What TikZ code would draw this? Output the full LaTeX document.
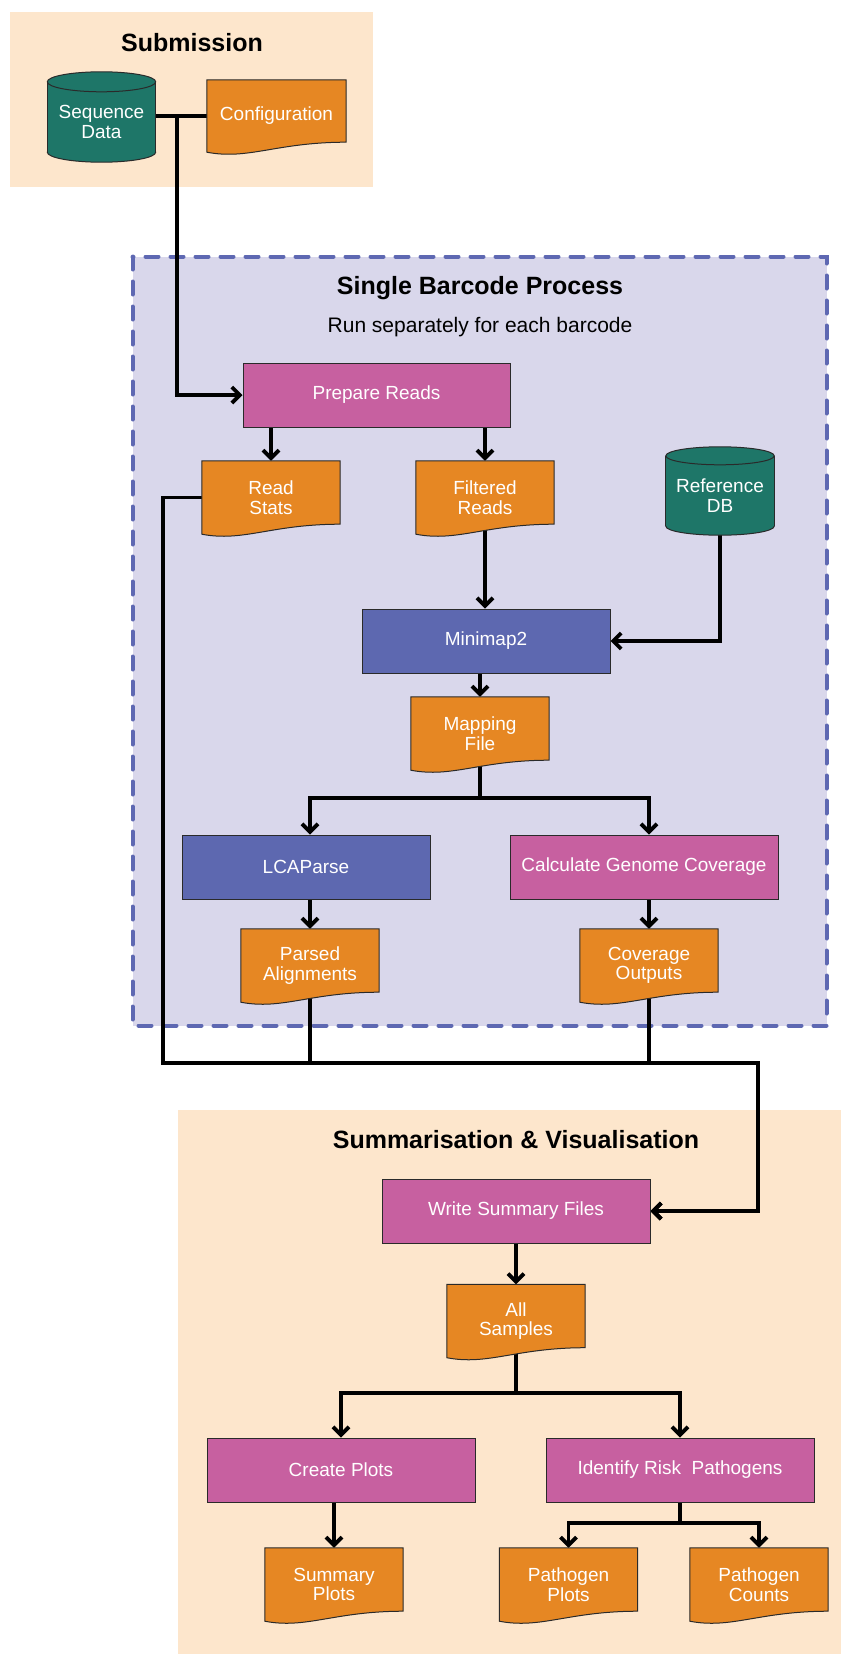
\documentclass[tikz,border=0pt]{standalone}
\usepackage{fontspec}
\setmainfont{Liberation Sans}
\usetikzlibrary{arrows.meta,calc}

\definecolor{peach}{HTML}{FDE6CC}
\definecolor{lavender}{HTML}{D9D7EB}
\definecolor{dashblue}{HTML}{5E68B2}
\definecolor{procpink}{HTML}{C760A0}
\definecolor{procblue}{HTML}{5D68B0}
\definecolor{docorange}{HTML}{E68723}
\definecolor{dbteal}{HTML}{1E7668}
\definecolor{edge}{HTML}{2A2A2A}

\pgfdeclarelayer{groups}
\pgfdeclarelayer{lines}
\pgfdeclarelayer{shapes}
\pgfsetlayers{groups,lines,shapes,main}

% wavy-bottom document outline drawn behind a named node
\newcommand\docoutline[1]{%
  \begin{pgfonlayer}{shapes}
    \path[draw=edge, line width=1pt, fill=docorange]
      (#1.north west) -- (#1.north east) -- ([yshift=10pt]#1.south east)
      .. controls ($(#1.south west)!0.5!(#1.south east)+(0,10pt)$)
         and ($(#1.south west)!0.3!(#1.south east)+(0,-8pt)$) .. (#1.south west)
      -- cycle;
  \end{pgfonlayer}}

% upright cylinder drawn behind a named node; #2 is the ellipse y radius
\newcommand\cylinderoutline[2]{%
  \begin{pgfonlayer}{shapes}
    \path[draw=edge, line width=1pt, fill=dbteal] let \p1=(#1.west), \p2=(#1.east) in
      ($(#1.south)+(0,#2)$) ellipse [x radius={(\x2-\x1)/2}, y radius=#2];
    \fill[dbteal] (#1.north west) rectangle ($(#1.south east)+(0,#2)$);
    \draw[edge, line width=1pt] (#1.north west) -- ($(#1.south west)+(0,#2)$)
                                (#1.north east) -- ($(#1.south east)+(0,#2)$);
    \path[draw=edge, line width=1pt, fill=dbteal] let \p1=(#1.west), \p2=(#1.east) in
      (#1.north) ellipse [x radius={(\x2-\x1)/2}, y radius=#2];
  \end{pgfonlayer}}

\begin{document}
\begin{tikzpicture}[x=1pt, y=-1pt,
  nodefont/.style={font=\fontsize{19}{19.5}\selectfont},
  proc/.style={nodefont, draw=edge, line width=1pt, minimum height=64pt,
               inner sep=0pt, text=white, align=center},
  procpinkbox/.style={proc, fill=procpink},
  procbluebox/.style={proc, fill=procblue},
  docnode/.style={nodefont, minimum width=138pt, minimum height=73pt,
                  inner sep=0pt, text=white, align=center},
  dbnode/.style={nodefont, minimum width=108pt, inner sep=0pt,
                 text=white, align=center},
  grouptitle/.style={font=\fontsize{25}{26}\bfseries\selectfont, text=black},
  groupnote/.style={font=\fontsize{21}{22}\selectfont, text=black},
  flow/.style={line width=3.8pt, black, line join=miter},
  arrow/.style={flow, -{Straight Barb[length=8pt, width=16pt]}}
]
\useasboundingbox (0,0) rectangle (841,1654);

% ---- group backgrounds ----
\begin{pgfonlayer}{groups}
  \fill[peach] (10,12) rectangle (373,187);
  \fill[lavender] (132.5,256.5) rectangle (826.5,1025.5);
  \draw[dashblue, line width=4pt, dash pattern=on 13pt off 12pt, line cap=round]
    (132.5,256.5) rectangle (826.5,1025.5);
  \fill[peach] (178,1110) rectangle (841,1654);
\end{pgfonlayer}

\node[grouptitle] (subtitle) at (192,43) {Submission};
\node[grouptitle] (sbtitle) at (480,288) {Single Barcode Process};
\node[groupnote] (sbnote) at (480,327) {Run separately for each barcode};
\node[grouptitle] (svtitle) at (516,1140) {Summarisation \& Visualisation};

% ---- submission ----
\node[dbnode, minimum height=80pt] (seq) at (101.5,122) {Sequence\\Data};
\cylinderoutline{seq}{10pt}
\node[docnode, minimum width=139pt, minimum height=72pt] (config) at (276.5,116) {Configuration};
\docoutline{config}

% ---- single barcode process ----
\node[procpinkbox, minimum width=267pt] (prepare) at (376.5,395) {Prepare Reads};
\node[docnode] (readstats) at (271,497.5) {Read\\Stats};
\docoutline{readstats}
\node[docnode] (filtered) at (485,497.5) {Filtered\\Reads};
\docoutline{filtered}
\node[dbnode, minimum height=79pt] (refdb) at (720,495.5) {Reference\\DB};
\cylinderoutline{refdb}{9pt}
\node[procbluebox, minimum width=248pt] (minimap) at (486,641) {Minimap2};
\node[docnode] (mapping) at (480,733.5) {Mapping\\File};
\docoutline{mapping}
\node[procbluebox, minimum width=248pt] (lcaparse) at (306,867) {LCAParse};
\node[procpinkbox, minimum width=268pt] (calc) at (644,867) {Calculate Genome Coverage};
\node[docnode] (parsed) at (310,965.5) {Parsed\\Alignments};
\docoutline{parsed}
\node[docnode] (coverage) at (649,965.5) {Coverage\\Outputs};
\docoutline{coverage}

% ---- summarisation & visualisation ----
\node[procpinkbox, minimum width=268pt] (writesum) at (516,1211) {Write Summary Files};
\node[docnode] (allsamples) at (516,1321) {All\\Samples};
\docoutline{allsamples}
\node[procpinkbox, minimum width=268pt] (createplots) at (341,1470) {Create Plots};
\node[procpinkbox, minimum width=268pt] (identify) at (680,1470) {Identify Risk\ \ Pathogens};
\node[docnode] (summaryplots) at (334,1584.5) {Summary\\Plots};
\docoutline{summaryplots}
\node[docnode] (pathplots) at (568.5,1584.5) {Pathogen\\Plots};
\docoutline{pathplots}
\node[docnode] (pathcounts) at (759,1584.5) {Pathogen\\Counts};
\docoutline{pathcounts}

% ---- junction points ----
\coordinate (subjoin) at (177,116);
\coordinate (busL) at (163,1063);
\coordinate (busR) at (758,1063);
\coordinate (mapsplit) at (480,798);
\coordinate (allsplit) at (516,1393);
\coordinate (riskjoin) at (680,1523);

% ---- connectors ----
\begin{pgfonlayer}{lines}
  \draw[arrow] (seq.east |- subjoin) -- (subjoin) |- (prepare.west);
  \draw[flow] (config.west |- subjoin) -- (subjoin);

  \draw[arrow] (prepare.south -| readstats.north) -- (readstats.north);
  \draw[arrow] (prepare.south -| filtered.north) -- (filtered.north);
  \draw[arrow] ([yshift=6pt]filtered.south) -- (filtered.south |- minimap.north);
  \draw[arrow] (refdb.south) |- (minimap.east);
  \draw[arrow] (minimap.south -| mapping.north) -- (mapping.north);

  \draw[arrow] ([yshift=6pt]mapping.south) -- (mapsplit) -| (lcaparse.north -| parsed.north);
  \draw[arrow] (mapsplit) -| (calc.north -| coverage.north);
  \draw[arrow] (lcaparse.south -| parsed.north) -- (parsed.north);
  \draw[arrow] (calc.south -| coverage.north) -- (coverage.north);

  \draw[arrow] (readstats.west) -| (busL) -- (busR) |- (writesum.east);
  \draw[arrow] ([yshift=6pt]parsed.south) -- (parsed.south |- busL) -- (busR) |- (writesum.east);
  \draw[arrow] ([yshift=6pt]coverage.south) -- (coverage.south |- busR) -- (busR) |- (writesum.east);

  \draw[arrow] (writesum.south) -- (allsamples.north);
  \draw[arrow] ([yshift=6pt]allsamples.south) -- (allsplit) -| (createplots.north);
  \draw[arrow] (allsplit) -| (identify.north);
  \draw[arrow] (createplots.south -| summaryplots.north) -- (summaryplots.north);
  \draw[flow] (identify.south) -- (riskjoin);
  \draw[arrow] (riskjoin) -| (pathplots.north);
  \draw[arrow] (riskjoin) -| (pathcounts.north);
\end{pgfonlayer}
\end{tikzpicture}
\end{document}
